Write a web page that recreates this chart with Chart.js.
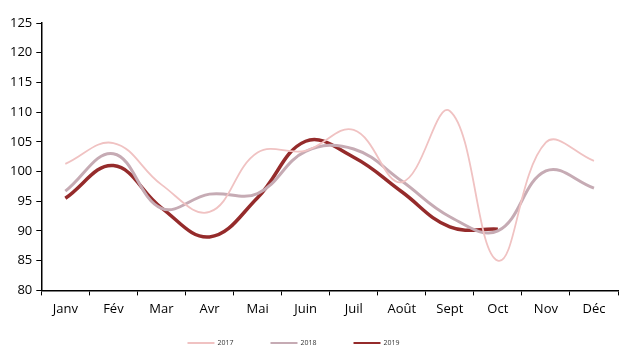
<!DOCTYPE html>
<html>
<head>
<meta charset="utf-8">
<script src="https://cdn.jsdelivr.net/npm/chart.js@4"></script>
<style>
  html, body { margin: 0; padding: 0; background: #fff; }
  #wrap { width: 627px; height: 353px; }
</style>
</head>
<body>
<div id="wrap"><canvas id="chart" width="627" height="353"></canvas></div>
<script>
// Mois
const months = ['Janv', 'Fév', 'Mar', 'Avr', 'Mai', 'Juin', 'Juil', 'Août', 'Sept', 'Oct', 'Nov', 'Déc'];

// Séries
const serie2017 = [101.3, 104.8, 97.8, 93.2, 103.2, 103.5, 107.0, 98.2, 110.2, 85.0, 104.9, 101.8];
const serie2018 = [96.7, 103.0, 93.8, 96.2, 96.3, 103.4, 103.8, 98.4, 92.4, 90.0, 100.1, 97.2];
const serie2019 = [95.5, 101.0, 93.9, 89.0, 95.6, 105.1, 102.4, 96.6, 90.7, 90.3];

// Axe Y
const yMin = 80;
const yMax = 125;
const yStep = 5;

const font = '"Open Sans", "Noto Sans", sans-serif';

// Légende dessinée à la main : très espacée, en bas, un peu à gauche du centre
const bottomLegend = {
    id: 'bottomLegend',
    afterDraw(chart) {
        const c = chart.ctx;
        const lineLen = 27;
        const gap = 37;
        c.save();
        c.font = '7px ' + font;
        c.textBaseline = 'middle';
        const items = chart.data.datasets.map(ds => ({
            label: ds.label,
            color: ds.borderColor,
            w: lineLen + 3 + c.measureText(ds.label).width
        }));
        const total = items.reduce((s, it) => s + it.w, 0) + gap * (items.length - 1);
        let x = chart.width / 2 - 20 - total / 2;
        const y = chart.height - 10;
        items.forEach(it => {
            c.strokeStyle = it.color;
            c.lineWidth = 2;
            c.beginPath();
            c.moveTo(x, y);
            c.lineTo(x + lineLen, y);
            c.stroke();
            c.fillStyle = '#333';
            c.fillText(it.label, x + lineLen + 3, y);
            x += it.w + gap;
        });
        c.restore();
    }
};

const ctx = document.getElementById('chart').getContext('2d');

new Chart(ctx, {
    type: 'line',
    data: {
        labels: months,
        datasets: [
            {
                label: '2017',
                data: serie2017,
                borderColor: '#f0c2c2',
                backgroundColor: '#f0c2c2',
                borderWidth: 1.8,
                tension: 0.4,
                pointRadius: 0
            },
            {
                label: '2018',
                data: serie2018,
                borderColor: '#c6abb4',
                backgroundColor: '#c6abb4',
                borderWidth: 3,
                tension: 0.4,
                pointRadius: 0
            },
            {
                label: '2019',
                data: serie2019,
                borderColor: '#952b2b',
                backgroundColor: '#952b2b',
                borderWidth: 3.5,
                tension: 0.4,
                pointRadius: 0
            }
        ]
    },
    options: {
        responsive: false,
        animation: false,
        layout: {
            padding: { left: 6, right: 9, top: 23, bottom: 30 }
        },
        plugins: {
            legend: { display: false },
            tooltip: { enabled: false }
        },
        scales: {
            x: {
                offset: true,
                grid: {
                    offset: true,
                    drawOnChartArea: false,
                    color: '#000',
                    tickLength: 5
                },
                border: { color: '#000', width: 1.5 },
                ticks: {
                    color: '#000',
                    padding: 6,
                    font: { size: 13, family: font }
                }
            },
            y: {
                min: yMin,
                max: yMax,
                ticks: {
                    stepSize: yStep,
                    color: '#000',
                    padding: 4,
                    font: { size: 13, family: font }
                },
                grid: {
                    drawOnChartArea: false,
                    color: '#000',
                    tickLength: 5
                },
                border: { color: '#000', width: 1.5 }
            }
        }
    },
    plugins: [bottomLegend]
});
</script>
</body>
</html>
